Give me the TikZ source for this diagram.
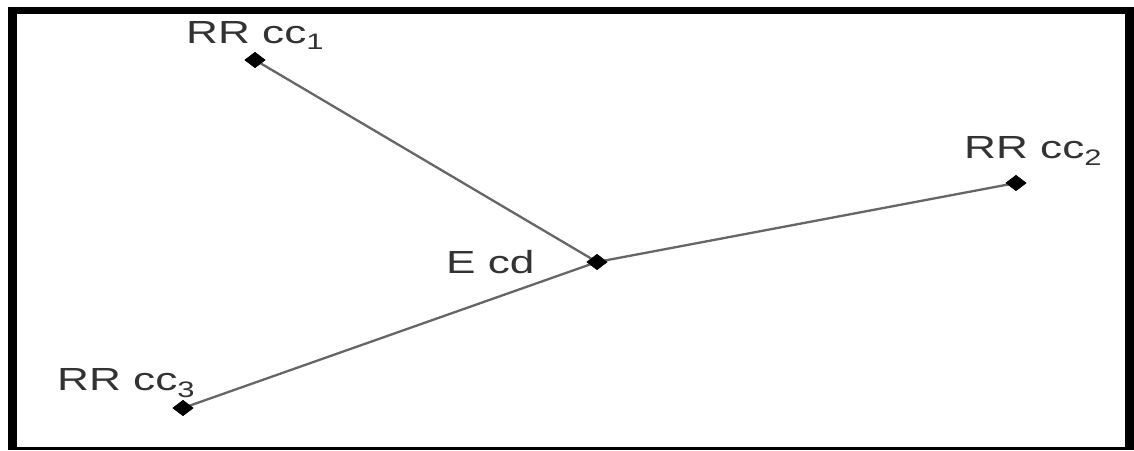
\documentclass[tikz,border=0pt]{standalone}
\usepackage{fontspec}
\setmainfont{Liberation Sans}
\usetikzlibrary{shapes.geometric}
\tikzset{
  dot/.style={diamond, fill=black, draw=none, inner sep=0pt, minimum width=21pt, minimum height=16pt},
  lbl/.style={anchor=base west, inner sep=0pt, text=black!80, font=\fontsize{32}{32}\selectfont},
  link/.style={draw=black!60, line width=2.3pt}
}
\newcommand{\wide}[1]{\scalebox{1.38}[1]{#1}}
\begin{document}
\begin{tikzpicture}[x=1pt,y=-1pt]
\useasboundingbox (0,0) rectangle (1134,450);
\fill[white] (0,0) rectangle (1134,450);
% frame
\fill[black] (8,7) rectangle (1134,449.5);
\fill[white] (17,13.5) rectangle (1125,447);
% points
\node[dot] (c1) at (255,60) {};
\node[dot] (c2) at (1016,183) {};
\node[dot] (e) at (597,262) {};
\node[dot] (c3) at (183,408) {};
% links
\draw[link] (c1.center) -- (e.center);
\draw[link] (e.center) -- (c2.center);
\draw[link] (e.center) -- (c3.center);
\node[dot] at (e) {};
\node[dot] at (c1) {};
\node[dot] at (c2) {};
\node[dot] at (c3) {};
% labels
\node[lbl] (l1) at (186,43) {\wide{RR cc\textsubscript{1}}};
\node[lbl] (l2) at (964,158) {\wide{RR cc\textsubscript{2}}};
\node[lbl] (le) at (446,273) {\wide{E cd}};
\node[lbl] (l3) at (57,390) {\wide{RR cc\textsubscript{3}}};
\end{tikzpicture}
\end{document}
